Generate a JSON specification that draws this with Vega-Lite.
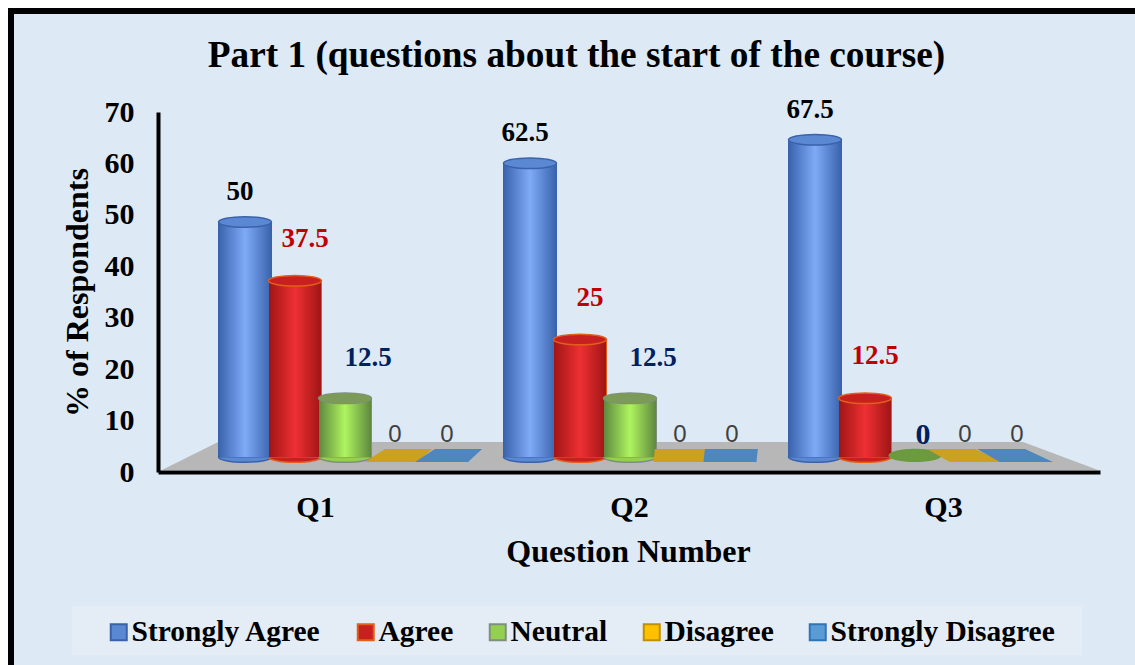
{
"$schema":"https://vega.github.io/schema/vega-lite/v6.json",
"width":1135,"height":665,
"autosize":{"type":"none"},
"padding":{"left":11,"top":11,"right":0,"bottom":0},
"background":"white",
"config":{"font":"Liberation Serif","view":{"fill":"#DDE9F5","stroke":"black","strokeWidth":6},"axis":{"grid":false,"ticks":false,"domainColor":"black","domainWidth":4,"labelColor":"black","titleColor":"black","labelFontWeight":"bold","titleFontWeight":"bold"}},
"title":{"text":"Part 1 (questions about the start of the course)","fontSize":37.3,"fontWeight":"bold","color":"black","anchor":"middle","orient":"top","offset":-93,"baseline":"alphabetic","dx":-2},
"datasets":{"responses":[
{"Question":"Q1","Response":"Strongly Agree","Value":50},
{"Question":"Q1","Response":"Agree","Value":37.5},
{"Question":"Q1","Response":"Neutral","Value":12.5},
{"Question":"Q1","Response":"Disagree","Value":0},
{"Question":"Q1","Response":"Strongly Disagree","Value":0},
{"Question":"Q2","Response":"Strongly Agree","Value":62.5},
{"Question":"Q2","Response":"Agree","Value":25},
{"Question":"Q2","Response":"Neutral","Value":12.5},
{"Question":"Q2","Response":"Disagree","Value":0},
{"Question":"Q2","Response":"Strongly Disagree","Value":0},
{"Question":"Q3","Response":"Strongly Agree","Value":67.5},
{"Question":"Q3","Response":"Agree","Value":12.5},
{"Question":"Q3","Response":"Neutral","Value":0},
{"Question":"Q3","Response":"Disagree","Value":0},
{"Question":"Q3","Response":"Strongly Disagree","Value":0}
],
"floor":[{"floorX":0,"floorTop":0},{"floorX":6,"floorTop":1},{"floorX":92,"floorTop":1},{"floorX":100,"floorTop":0}]
},
"resolve":{"scale":{"x":"independent","y":"independent"}},
"layer":[
{"data":{"values":[{"a":0,"b":1}]},"mark":{"type":"rect","fill":"#E4ECF5"},
 "encoding":{"x":{"field":"a","type":"quantitative","axis":null,"scale":{"domain":[0,1],"range":[61,1071]}},"x2":{"field":"b"},
 "y":{"field":"a","type":"quantitative","axis":null,"scale":{"domain":[0,1],"range":[644,595]}},"y2":{"field":"b"}}},
{"data":{"name":"floor"},"mark":{"type":"area","fill":"#B7B7B7"},
 "encoding":{"x":{"field":"floorX","type":"quantitative","axis":null,"scale":{"domain":[0,100],"range":[151,1087]}},
 "y":{"field":"floorTop","type":"quantitative","axis":null,"scale":{"domain":[0,1],"range":[459,431]}},"y2":{"datum":0}}},
{"data":{"name":"responses"},"mark":{"type":"point","opacity":0},
 "encoding":{
  "x":{"field":"Question","type":"nominal","scale":{"domain":["Q1","Q2","Q3"],"range":[147,1089],"paddingInner":0,"paddingOuter":0},
   "axis":{"title":"Question Number","orient":"bottom","offset":-204,"labelAngle":0,"labelFontSize":30,"labelPadding":20,"titleFontSize":32,"titleFontWeight":"bold","titlePadding":14,"titleX":617,"zindex":1}},
  "y":{"field":"Value","type":"quantitative","scale":{"domain":[0,70],"range":[461,101],"nice":false},
   "axis":{"title":"% of Respondents","orient":"left","offset":-147,"values":[0,10,20,30,40,50,60,70],"labelFontSize":30,"labelPadding":24,"titleFontSize":32,"titlePadding":10,"zindex":1}}
 }},
{"data":{"name":"responses"},
 "encoding":{
  "x":{"field":"Question","type":"nominal","axis":null,"scale":{"domain":["Q1","Q2","Q3"],"range":[191.5,1046.5],"paddingInner":0,"paddingOuter":0}},
  "xOffset":{"field":"Response","type":"nominal","scale":{"domain":["Strongly Agree","Agree","Neutral","Disagree","Strongly Disagree"],"range":[17.5,267.5],"paddingInner":0,"paddingOuter":0}},
  "y":{"field":"Value","type":"quantitative","axis":null,"scale":{"domain":[0,70],"range":[446,117],"nice":false}},
  "fill":{"field":"Response","type":"nominal","scale":{"domain":["Strongly Agree","Agree","Neutral","Disagree","Strongly Disagree"],"range":["#5B88D2","#C82020","#93D04F","#FFC000","#5B9BD5"]},
    "legend":{"title":null,"orient":"none","legendX":93,"legendY":606,"direction":"horizontal","symbolType":"square","symbolSize":256,"symbolStrokeWidth":2,"symbolOpacity":1,"labelFontSize":29.5,"labelFontWeight":"bold","labelColor":"black","labelOffset":-2,"columnPadding":29,"padding":0,"labelLimit":300}},
  "stroke":{"field":"Response","type":"nominal","scale":{"domain":["Strongly Agree","Agree","Neutral","Disagree","Strongly Disagree"],"range":["#3A62AB","#E0601A","#7F8F7F","#BF9000","#2E75B6"]}}
 },
 "layer":[
 {"transform":[{"filter":"datum.Value>0"}],"mark":{"type":"point","filled":true,"opacity":1,"size":2809,"shape":"M-1 0A1 .2 0 1 0 1 0A1 .2 0 1 0 -1 0Z","strokeWidth":1.5},
  "encoding":{"y":{"datum":0}}},
 {"transform":[{"filter":"datum.Value>0"}],"mark":{"type":"bar","opacity":1,"width":53,"strokeWidth":1},
  "encoding":{"y2":{"datum":0}}},
 {"transform":[{"filter":"datum.Response=='Strongly Agree'"}],"mark":{"type":"bar","opacity":1,"width":52},
  "encoding":{"y2":{"datum":0},"fill":{"value":{"gradient":"linear","x1":0,"x2":1,"y1":0,"y2":0,"stops":[{"offset":0,"color":"#3B64AE"},{"offset":0.5,"color":"#7FAAF6"},{"offset":1,"color":"#3B64AE"}]}},"stroke":{"value":null}}},
 {"transform":[{"filter":"datum.Response=='Agree'"}],"mark":{"type":"bar","opacity":1,"width":52},
  "encoding":{"y2":{"datum":0},"fill":{"value":{"gradient":"linear","x1":0,"x2":1,"y1":0,"y2":0,"stops":[{"offset":0,"color":"#A01515"},{"offset":0.5,"color":"#EE3033"},{"offset":1,"color":"#A01515"}]}},"stroke":{"value":null}}},
 {"transform":[{"filter":"datum.Response=='Neutral' && datum.Value>0"}],"mark":{"type":"bar","opacity":1,"width":52},
  "encoding":{"y2":{"datum":0},"fill":{"value":{"gradient":"linear","x1":0,"x2":1,"y1":0,"y2":0,"stops":[{"offset":0,"color":"#5F8840"},{"offset":0.5,"color":"#AEF55E"},{"offset":1,"color":"#5F8840"}]}},"stroke":{"value":null}}},
 {"transform":[{"filter":"datum.Value>0"}],"mark":{"type":"point","filled":true,"opacity":1,"size":2809,"shape":"M-1 0A1 .2 0 1 0 1 0A1 .2 0 1 0 -1 0Z","strokeWidth":1.5}},
 {"transform":[{"filter":"datum.Response=='Neutral' && datum.Value>0"}],"mark":{"type":"point","filled":true,"opacity":1,"size":2809,"shape":"M-1 0A1 .2 0 1 0 1 0A1 .2 0 1 0 -1 0Z","strokeWidth":0},"encoding":{"fill":{"value":"#7C9A58"},"stroke":{"value":null}}},
 {"transform":[{"filter":"datum.Response=='Neutral' && datum.Value==0"}],"mark":{"type":"point","filled":true,"opacity":1,"size":2809,"shape":"M-1 -.06A1 .25 0 1 0 1 -.06A1 .25 0 1 0 -1 -.06Z","strokeWidth":0},"encoding":{"fill":{"value":"#6B9A3F"},"stroke":{"value":null}}},
 {"transform":[{"filter":"datum.Response=='Disagree'"}],"mark":{"type":"point","filled":true,"opacity":1,"size":2809,"strokeWidth":0},
  "encoding":{"fill":{"value":"#CBA21E"},"stroke":{"value":null},"shape":{"field":"Question","type":"nominal","legend":null,"scale":{"domain":["Q1","Q2","Q3"],"range":["M-1.13 .19L.87 .19L1.4 -.3L-.38 -.3Z","M-1 .19L1 .19L1.05 -.3L-.95 -.3Z","M-.57 .19L1.43 .19L.38 -.3L-1.43 -.3Z"]}}}},
 {"transform":[{"filter":"datum.Response=='Strongly Disagree'"}],"mark":{"type":"point","filled":true,"opacity":1,"size":2809,"strokeWidth":0},
  "encoding":{"fill":{"value":"#4F86BD"},"stroke":{"value":null},"shape":{"field":"Question","type":"nominal","legend":null}}},
 {"transform":[{"filter":"datum.Response=='Strongly Agree'"}],"mark":{"type":"text","fontSize":27,"fontWeight":"bold","dx":-5,"dy":-30},"encoding":{"fill":{"value":"black"},"stroke":{"value":null},"text":{"field":"Value","type":"quantitative"}}},
 {"transform":[{"filter":"datum.Response=='Agree'"}],"mark":{"type":"text","fontSize":27,"fontWeight":"bold","dx":10,"dy":-42},"encoding":{"fill":{"value":"#C00000"},"stroke":{"value":null},"text":{"field":"Value","type":"quantitative"}}},
 {"transform":[{"filter":"datum.Response=='Neutral' && datum.Value>0"}],"mark":{"type":"text","fontSize":27,"fontWeight":"bold","dx":23,"dy":-40},"encoding":{"fill":{"value":"#002060"},"stroke":{"value":null},"text":{"field":"Value","type":"quantitative"}}},
 {"transform":[{"filter":"datum.Response=='Neutral' && datum.Value==0"}],"mark":{"type":"text","fontSize":30,"fontWeight":"bold","dx":8,"dy":-22},"encoding":{"fill":{"value":"#002060"},"stroke":{"value":null},"text":{"field":"Value","type":"quantitative"}}},
 {"transform":[{"filter":"datum.Response=='Disagree'"}],"mark":{"type":"text","font":"Liberation Sans","fontSize":24,"dx":0,"dy":-22},"encoding":{"fill":{"value":"#404040"},"stroke":{"value":null},"text":{"field":"Value","type":"quantitative"}}},
 {"transform":[{"filter":"datum.Response=='Strongly Disagree'"}],"mark":{"type":"text","font":"Liberation Sans","fontSize":24,"dx":2,"dy":-22},"encoding":{"fill":{"value":"#404040"},"stroke":{"value":null},"text":{"field":"Value","type":"quantitative"}}}
 ]}
]
}
